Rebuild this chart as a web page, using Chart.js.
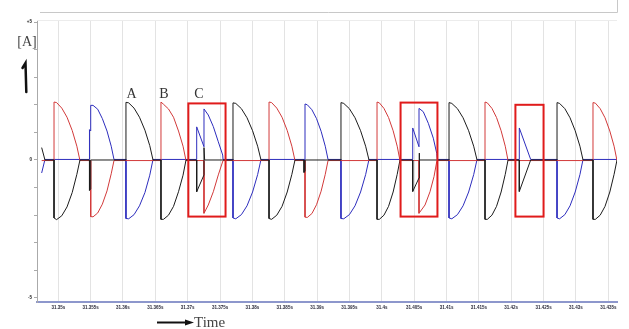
<!DOCTYPE html>
<html>
<head>
<meta charset="utf-8">
<script src="https://cdn.jsdelivr.net/npm/chart.js@4.4.1/dist/chart.umd.min.js"></script>
<style>
html, body { margin: 0; padding: 0; background: #fff; }
#wrap { width: 629px; height: 329px; }
</style>
</head>
<body>
<div id="wrap"><canvas id="myChart" width="629" height="329"></canvas></div>
<script>
// time in ms, current in A
var blackTrace = [
    [31347.43, 0.45], [31347.94, 0],
    [31349.34, 0], [31349.34, -2.1], [31349.74, -2.16], [31350.54, -2.02], [31351.35, -1.7], [31352.15, -1.18], [31352.87, -0.52], [31353.35, 0],
    [31354.82, 0], [31354.82, -1.1], [31355.01, -1.05], [31355.01, 0],
    [31360.46, 0], [31360.46, 2.09], [31360.88, 2.07], [31361.71, 1.88], [31362.55, 1.55], [31363.39, 1.08], [31364.14, 0.52], [31364.64, 0],
    [31365.87, 0], [31365.87, -2.15], [31366.26, -2.15], [31367.03, -2.0], [31367.81, -1.68], [31368.58, -1.15], [31369.28, -0.55], [31369.74, 0],
    [31371.39, 0], [31371.39, -1.15], [31372.52, -0.54], [31372.52, 0.45], [31372.62, 0],
    [31377.00, 0], [31377.00, 2.07], [31377.43, 2.05], [31378.30, 1.86], [31379.17, 1.53], [31380.03, 1.06], [31380.81, 0.5], [31381.33, 0],
    [31382.57, 0], [31382.57, -2.12], [31382.97, -2.15], [31383.77, -2.0], [31384.58, -1.68], [31385.38, -1.16], [31386.10, -0.52], [31386.58, 0],
    [31387.98, 0], [31387.98, -0.45], [31388.13, -0.4], [31388.13, 0],
    [31393.69, 0], [31393.69, 2.08], [31394.12, 2.05], [31394.99, 1.86], [31395.86, 1.53], [31396.72, 1.06], [31397.50, 0.5], [31398.02, 0],
    [31399.26, 0], [31399.26, -2.15], [31399.62, -2.15], [31400.33, -2.0], [31401.04, -1.68], [31401.75, -1.16], [31402.38, -0.52], [31402.81, 0],
    [31404.78, 0], [31404.78, -1.14], [31405.75, -0.65], [31405.75, 0.25], [31405.85, 0],
    [31410.39, 0], [31410.39, 2.08], [31410.82, 2.05], [31411.69, 1.86], [31412.56, 1.53], [31413.42, 1.06], [31414.20, 0.5], [31414.72, 0],
    [31415.95, 0], [31415.95, -2.15], [31416.31, -2.15], [31417.02, -2.0], [31417.73, -1.68], [31418.44, -1.16], [31419.08, -0.52], [31419.51, 0],
    [31421.25, 0], [31421.25, -1.14], [31423.01, 0],
    [31427.08, 0], [31427.08, 2.08], [31427.48, 2.05], [31428.29, 1.86], [31429.09, 1.53], [31429.89, 1.06], [31430.62, 0.5], [31431.10, 0],
    [31432.64, 0], [31432.64, -2.15], [31433.01, -2.15], [31433.75, -2.0], [31434.50, -1.68], [31435.24, -1.16], [31435.90, -0.52], [31436.35, 0]
];

var redTrace = [
    [31347.43, -0.02],
    [31349.34, -0.02], [31349.34, 2.1], [31349.74, 2.08], [31350.54, 1.88], [31351.35, 1.55], [31352.15, 1.07], [31352.87, 0.5], [31353.35, -0.02],
    [31355.01, -0.02], [31355.01, -2.05], [31355.37, -2.06], [31356.09, -1.92], [31356.81, -1.6], [31357.53, -1.12], [31358.18, -0.5], [31358.61, -0.02],
    [31365.87, -0.02], [31365.87, 2.1], [31366.26, 2.02], [31367.03, 1.85], [31367.81, 1.55], [31368.58, 1.05], [31369.28, 0.5], [31369.74, -0.02],
    [31372.52, -0.02], [31372.52, -1.93], [31373.18, -1.63], [31373.96, -1.15], [31374.73, -0.54], [31375.46, -0.02],
    [31382.57, -0.02], [31382.57, 2.1], [31382.97, 2.08], [31383.77, 1.88], [31384.58, 1.55], [31385.38, 1.07], [31386.10, 0.5], [31386.58, -0.02],
    [31388.13, -0.02], [31388.13, -2.07], [31388.49, -2.08], [31389.20, -1.94], [31389.91, -1.62], [31390.62, -1.13], [31391.26, -0.52], [31391.69, -0.02],
    [31399.26, -0.02], [31399.26, 2.1], [31399.62, 2.07], [31400.33, 1.87], [31401.04, 1.54], [31401.75, 1.06], [31402.38, 0.5], [31402.81, -0.02],
    [31405.75, -0.02], [31405.75, -1.93], [31406.68, -1.63], [31407.45, -1.15], [31408.07, -0.6], [31408.49, -0.06], [31408.58, -0.02],
    [31415.95, -0.02], [31415.95, 2.1], [31416.31, 2.07], [31417.02, 1.87], [31417.73, 1.54], [31418.44, 1.06], [31419.08, 0.5], [31419.51, -0.02],
    [31432.64, -0.02], [31432.64, 2.08], [31433.01, 2.06], [31433.75, 1.86], [31434.50, 1.53], [31435.24, 1.05], [31435.90, 0.5], [31436.35, -0.02]
];

var blueTrace = [
    [31347.43, -0.47], [31347.94, 0.02],
    [31354.82, 0.02], [31354.82, 1.1], [31355.01, 1.05], [31355.01, 1.98], [31355.37, 1.98], [31356.09, 1.84], [31356.81, 1.5], [31357.53, 1.05], [31358.18, 0.5], [31358.61, 0.02],
    [31360.46, 0.02], [31360.46, -2.12], [31360.88, -2.13], [31361.71, -1.98], [31362.55, -1.66], [31363.39, -1.18], [31364.14, -0.55], [31364.64, 0.02],
    [31371.39, 0.02], [31371.39, 1.2], [31372.52, 0.48], [31372.52, 1.85], [31373.18, 1.63], [31373.96, 1.21], [31374.73, 0.66], [31375.41, 0.18], [31375.46, 0.02],
    [31377.00, 0.02], [31377.00, -2.1], [31377.43, -2.13], [31378.30, -1.98], [31379.17, -1.66], [31380.03, -1.16], [31380.81, -0.53], [31381.33, 0.02],
    [31388.13, 0.02], [31388.13, 2.03], [31388.49, 2.0], [31389.20, 1.82], [31389.91, 1.5], [31390.62, 1.04], [31391.26, 0.5], [31391.69, 0.02],
    [31393.69, 0.02], [31393.69, -2.12], [31394.12, -2.13], [31394.99, -1.98], [31395.86, -1.66], [31396.72, -1.16], [31397.50, -0.53], [31398.02, 0.02],
    [31404.78, 0.02], [31404.78, 1.16], [31405.75, 0.48], [31405.75, 1.87], [31406.41, 1.75], [31407.19, 1.33], [31407.96, 0.79], [31408.49, 0.24], [31408.58, 0.02],
    [31410.39, 0.02], [31410.39, -2.1], [31410.82, -2.13], [31411.69, -1.98], [31412.56, -1.66], [31413.42, -1.16], [31414.20, -0.53], [31414.72, 0.02],
    [31421.25, 0.02], [31421.25, 1.16], [31423.01, 0.02],
    [31427.08, 0.02], [31427.08, -2.1], [31427.48, -2.13], [31428.29, -1.98], [31429.09, -1.66], [31429.89, -1.16], [31430.62, -0.53], [31431.10, 0.02],
    [31436.35, 0.02]
];

var xTickValues = [31350, 31355, 31360, 31365, 31370, 31375, 31380, 31385, 31390, 31395, 31400, 31405, 31410, 31415, 31420, 31425, 31430, 31435];
var xTickLabels = ['31.35s', '31.355s', '31.36s', '31.365s', '31.37s', '31.375s', '31.38s', '31.385s', '31.39s', '31.395s', '31.4s', '31.405s', '31.41s', '31.415s', '31.42s', '31.425s', '31.43s', '31.435s'];
var yTickValues = [-5, -4, -3, -2, -1, 0, 1, 2, 3, 4, 5];
var yTickLabels = ['-5', '', '', '', '', '0', '', '', '', '', '+5'];

var phaseLabels = [
    { text: 'A', x: 31361.31, y: 2.25 },
    { text: 'B', x: 31366.34, y: 2.25 },
    { text: 'C', x: 31371.75, y: 2.25 }
];
// marked commutation failures (time ms, current A)
var markBoxes = [
    { x0: 31370.10, x1: 31375.85, y0: 2.05, y1: -2.05 },
    { x0: 31402.90, x1: 31408.60, y0: 2.08, y1: -2.05 },
    { x0: 31420.65, x1: 31425.00, y0: 2.0, y1: -2.05 }
];

const overlay = {
    id: 'overlay',
    afterDraw(chart) {
        const ctx = chart.ctx, xs = chart.scales.x, ys = chart.scales.y, area = chart.chartArea;
        ctx.save();
        // frame lines at the top
        ctx.strokeStyle = '#c8c8c8';
        ctx.lineWidth = 1;
        ctx.beginPath();
        ctx.moveTo(40, 12.5); ctx.lineTo(617.5, 12.5); ctx.lineTo(617.5, 0);
        ctx.stroke();
        ctx.strokeStyle = '#ececec';
        ctx.beginPath();
        ctx.moveTo(area.left, area.top + 0.5); ctx.lineTo(area.right, area.top + 0.5);
        ctx.stroke();

        // red boxes
        ctx.strokeStyle = '#e01b1b';
        ctx.lineWidth = 2;
        markBoxes.forEach(function (b) {
            const l = xs.getPixelForValue(b.x0), r = xs.getPixelForValue(b.x1);
            const t = ys.getPixelForValue(b.y0), bt = ys.getPixelForValue(b.y1);
            ctx.strokeRect(l, t, r - l, bt - t);
        });

        // phase labels
        ctx.fillStyle = '#333';
        ctx.font = '14px "Liberation Serif"';
        ctx.textAlign = 'center';
        ctx.textBaseline = 'alphabetic';
        phaseLabels.forEach(function (p) {
            ctx.fillText(p.text, xs.getPixelForValue(p.x), ys.getPixelForValue(p.y));
        });

        // unit + hand drawn arrow
        ctx.fillStyle = '#444';
        ctx.fillText('[A]', 27, 46);
        ctx.strokeStyle = '#111';
        ctx.lineWidth = 2.5;
        ctx.lineCap = 'round';
        ctx.beginPath();
        ctx.moveTo(22.5, 68); ctx.lineTo(25.5, 63); ctx.lineTo(26.3, 92);
        ctx.stroke();

        // time arrow
        ctx.lineWidth = 2;
        ctx.lineCap = 'butt';
        ctx.beginPath();
        ctx.moveTo(157, 322.5); ctx.lineTo(188, 322.5);
        ctx.stroke();
        ctx.fillStyle = '#111';
        ctx.beginPath();
        ctx.moveTo(185, 319.5); ctx.lineTo(194, 322.5); ctx.lineTo(185, 325.5);
        ctx.closePath();
        ctx.fill();
        ctx.fillStyle = '#444';
        ctx.font = '15px "Liberation Serif"';
        ctx.textAlign = 'left';
        ctx.fillText('Time', 194, 327);
        ctx.restore();
    }
};

function toXY(arr) {
    return arr.map(function (p) { return { x: p[0], y: p[1] }; });
}

const ctx = document.getElementById('myChart');
new Chart(ctx, {
    type: 'line',
    data: {
        datasets: [{
            label: 'black',
            data: toXY(blackTrace),
            borderColor: '#1c1c1c',
            borderWidth: 1
        }, {
            label: 'red',
            data: toXY(redTrace),
            borderColor: '#d23a3a',
            borderWidth: 1
        }, {
            label: 'blue',
            data: toXY(blueTrace),
            borderColor: '#2d2dbd',
            borderWidth: 1
        }]
    },
    options: {
        responsive: false,
        animation: false,
        events: [],
        layout: { padding: { left: 0, right: 12, top: 20, bottom: 0 } },
        elements: {
            point: { radius: 0 },
            line: { tension: 0, borderJoinStyle: 'round' }
        },
        plugins: {
            legend: { display: false },
            tooltip: { enabled: false }
        },
        scales: {
            x: {
                type: 'linear',
                min: 31346.71,
                max: 31436.35,
                afterFit: function (scale) { scale.height = 27; },
                afterBuildTicks: function (scale) {
                    scale.ticks = xTickValues.map(function (v) { return { value: v }; });
                },
                ticks: {
                    autoSkip: false,
                    maxRotation: 0,
                    padding: 3,
                    color: '#2a2a3a',
                    font: { family: 'Liberation Sans', size: 4.5, weight: 'bold' },
                    callback: function (v, i) { return xTickLabels[i]; }
                },
                grid: { color: '#e3e3e3', drawTicks: false },
                border: { color: '#8d97cc', width: 2 }
            },
            y: {
                min: -5.145,
                max: 5.0725,
                afterFit: function (scale) { scale.width = 37; },
                afterBuildTicks: function (scale) {
                    scale.ticks = yTickValues.map(function (v) { return { value: v }; });
                },
                ticks: {
                    padding: 2,
                    color: '#222',
                    font: { family: 'Liberation Sans', size: 4.5, weight: 'bold' },
                    callback: function (v, i) { return yTickLabels[i]; }
                },
                grid: { drawOnChartArea: false, tickLength: 3, color: '#aaa' },
                border: { color: '#aaa', width: 1 }
            }
        }
    },
    plugins: [overlay]
});
</script>
</body>
</html>
